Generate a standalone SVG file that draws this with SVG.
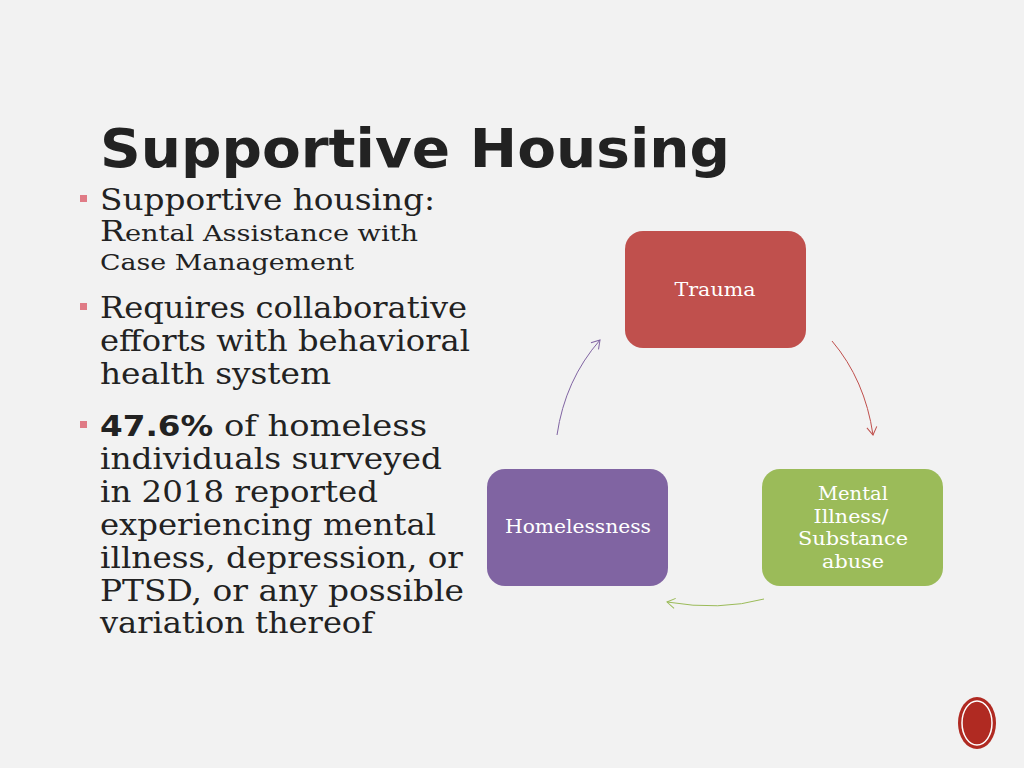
<svg xmlns="http://www.w3.org/2000/svg" width="1024" height="768" viewBox="0 0 1024 768">
<style>
.t{font-family:"DejaVu Serif",serif;fill:#222}
.b{font-size:30px}
.s{font-size:23px}
.n{font-family:"DejaVu Serif",serif;fill:#fff;font-size:19px;text-anchor:middle}
.bu{fill:#e07b86}
.c{fill:none;stroke-width:1}
</style>
<defs>
<marker id="m" markerWidth="12" markerHeight="12" refX="10" refY="6" orient="auto" markerUnits="userSpaceOnUse"><path d="M2,1 L10,6 L2,11" fill="none" stroke="context-stroke" stroke-width="1"/></marker>
</defs>
<rect width="1024" height="768" fill="#f2f2f2"/>
<text x="100" y="167" font-family="DejaVu Sans,sans-serif" font-weight="bold" font-size="54" fill="#222" textLength="630" lengthAdjust="spacingAndGlyphs">Supportive Housing</text>
<g id="bullets">
<rect class="bu" x="80" y="195" width="7" height="7"/>
<rect class="bu" x="80" y="303" width="7" height="7"/>
<rect class="bu" x="80" y="421" width="7" height="7"/>
<text class="t b" x="100" y="210" textLength="335" lengthAdjust="spacingAndGlyphs">Supportive housing:</text>
<text class="t s" x="100" y="241" textLength="318" lengthAdjust="spacingAndGlyphs"><tspan font-size="28">R</tspan>ental Assistance with</text>
<text class="t s" x="100" y="270" textLength="254" lengthAdjust="spacingAndGlyphs">Case Management</text>
<text class="t b" x="100" y="318" textLength="367" lengthAdjust="spacingAndGlyphs">Requires collaborative</text>
<text class="t b" x="100" y="351" textLength="370" lengthAdjust="spacingAndGlyphs">efforts with behavioral</text>
<text class="t b" x="100" y="384" textLength="231" lengthAdjust="spacingAndGlyphs">health system</text>
<text class="t b" x="100" y="436" textLength="327" lengthAdjust="spacingAndGlyphs"><tspan font-family="DejaVu Sans,sans-serif" font-weight="bold" font-size="29">47.6%</tspan> of homeless</text>
<text class="t b" x="100" y="469" textLength="342" lengthAdjust="spacingAndGlyphs">individuals surveyed</text>
<text class="t b" x="100" y="502" textLength="278" lengthAdjust="spacingAndGlyphs">in 2018 reported</text>
<text class="t b" x="100" y="535" textLength="336" lengthAdjust="spacingAndGlyphs">experiencing mental</text>
<text class="t b" x="100" y="568" textLength="363" lengthAdjust="spacingAndGlyphs">illness, depression, or</text>
<text class="t b" x="100" y="601" textLength="364" lengthAdjust="spacingAndGlyphs">PTSD, or any possible</text>
<text class="t b" x="100" y="633" textLength="273" lengthAdjust="spacingAndGlyphs">variation thereof</text>
</g>
<g id="trauma"><rect x="625" y="231" width="181" height="117" rx="18" fill="#c0504d"/><text class="n" x="715" y="296" textLength="81" lengthAdjust="spacingAndGlyphs">Trauma</text></g>
<g id="mental"><rect x="762" y="469" width="181" height="117" rx="18" fill="#9bbb59"/>
<text class="n" x="853" y="500" textLength="70" lengthAdjust="spacingAndGlyphs">Mental</text><text class="n" x="851" y="523" textLength="75" lengthAdjust="spacingAndGlyphs">Illness/</text><text class="n" x="853" y="545" textLength="110" lengthAdjust="spacingAndGlyphs">Substance</text><text class="n" x="853" y="568" textLength="62" lengthAdjust="spacingAndGlyphs">abuse</text></g>
<g id="homelessness"><rect x="487" y="469" width="181" height="117" rx="18" fill="#8064a2"/><text class="n" x="578" y="533" textLength="146" lengthAdjust="spacingAndGlyphs">Homelessness</text></g>
<g id="connectors">
<path class="c" stroke="#c0504d" d="M832,341 Q865,380 873,435" marker-end="url(#m)"/>
<path class="c" stroke="#9bbb59" d="M764,599 Q720,611 667,602" marker-end="url(#m)"/>
<path class="c" stroke="#8064a2" d="M557,435 Q565,380 600,340" marker-end="url(#m)"/>
</g>
<g id="badge"><ellipse cx="977" cy="723" rx="19" ry="26" fill="#b02a22"/><ellipse cx="977" cy="723" rx="15" ry="22" fill="none" stroke="#fff" stroke-width="1.5"/></g>
</svg>
